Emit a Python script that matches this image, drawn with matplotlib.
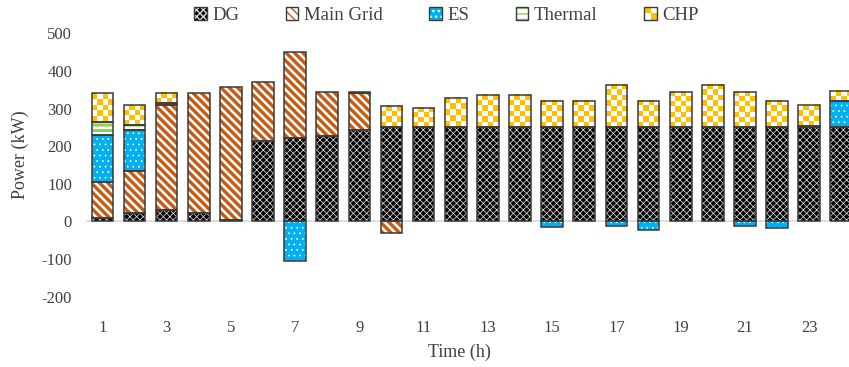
import numpy as np
import matplotlib
matplotlib.use('Agg')
import matplotlib.pyplot as plt
import matplotlib.patches as mpatches
from matplotlib.colors import ListedColormap
from matplotlib.legend_handler import HandlerBase

plt.rcParams['font.family'] = ['Liberation Serif', 'DejaVu Serif']
plt.rcParams['axes.unicode_minus'] = False

# hourly power dispatch (kW)
hours = np.arange(1, 25)
dg = [9, 23, 31, 23, 5, 213, 222, 228, 243, 250, 250, 250,
      250, 250, 250, 250, 250, 250, 250, 250, 250, 250, 250, 250]
main_grid = [97, 112, 279, 318, 352, 157, 229, 117, 98, -30, 0, 0,
             0, 0, 0, 0, 0, 0, 0, 0, 0, 0, 0, 0]
es = [124, 108, 0, 0, 0, 0, -106, 0, 0, 0, 0, 0,
      0, 0, -15, 0, -12, -22, 0, 0, -12, -17, 5, 71]
thermal = [35, 14, 4, 0, 0, 0, 0, 0, 4, 0, 0, 0,
           0, 0, 0, 0, 0, 0, 0, 0, 0, 0, 0, 0]
chp = [76, 53, 27, 0, 0, 0, 0, 0, 0, 58, 52, 78,
       86, 86, 70, 70, 113, 70, 95, 113, 95, 70, 55, 27]
xticks = np.arange(1, 24, 2)
yticks = np.arange(-200, 501, 100)

edge = '#3a3a3a'
text_col = '#404040'
yellow = '#FFC000'
width = 0.675

fig = plt.figure(figsize=(8.49, 3.67), dpi=100)
ax = fig.add_axes([86 / 849, 0.1915, 1 - 86 / 849, 0.7175])

# (label, values, facecolor, hatch, hatch colour, hatch lw)
series = [
    ('DG', dg, '#000000', 'xxxxx', '#d8d8d8', 0.55),
    ('Main Grid', main_grid, 'white', '\\\\\\\\', '#C55A11', 2.4),
    ('ES', es, '#00B0F0', '...', 'white', 0.5),
    ('Thermal', thermal, 'white', '---', '#92D050', 2.2),
    ('CHP', chp, yellow, None, None, 0),
]

pos_bottom = np.zeros(len(hours))
neg_bottom = np.zeros(len(hours))
handles = []
for label, vals, face, hatch, hcol, hlw in series:
    vals = np.array(vals, dtype=float)
    bottom = np.where(vals >= 0, pos_bottom, neg_bottom)
    m = vals != 0
    if hatch:
        with plt.rc_context({'hatch.linewidth': hlw}):
            bars = ax.bar(hours[m], vals[m], width, bottom=bottom[m],
                          facecolor=face, edgecolor=hcol, hatch=hatch,
                          linewidth=0, zorder=2)
        for p in bars:
            if hasattr(p, 'set_hatch_linewidth'):
                p.set_hatch_linewidth(hlw)
        with plt.rc_context({'hatch.linewidth': hlw}):
            h1 = mpatches.Patch(facecolor=face, edgecolor=hcol, hatch=hatch, linewidth=0)
        if hasattr(h1, 'set_hatch_linewidth'):
            h1.set_hatch_linewidth(hlw)
        h2 = mpatches.Patch(fill=False, edgecolor=edge, linewidth=1.0)
        handles.append((h1, h2))
    else:
        # checkerboard fill for CHP
        bars = ax.bar(hours[m], vals[m], width, bottom=bottom[m],
                      facecolor=face, linewidth=0, zorder=2)
        for p in bars:
            x0, y0, w, h = p.get_x(), p.get_y(), p.get_width(), p.get_height()
            cols = max(1, int(round(w / 0.171)))
            rows = max(1, int(round(abs(h) / 14.6)))
            board = np.add.outer(np.arange(rows), np.arange(cols)) % 2
            ax.imshow(board, cmap=ListedColormap([yellow, 'white']),
                      extent=(x0, x0 + w, y0, y0 + h), origin='lower',
                      interpolation='nearest', aspect='auto', zorder=2.1)
        handles.append(None)
    ax.bar(hours[m], vals[m], width, bottom=bottom[m], fill=False,
           edgecolor=edge, linewidth=1.1, zorder=3)
    pos_bottom += np.where(vals > 0, vals, 0)
    neg_bottom += np.where(vals < 0, vals, 0)


class CheckerHandler(HandlerBase):
    def create_artists(self, legend, orig_handle, xd, yd, w, h, fontsize, trans):
        arts = []
        for i in range(2):
            for j in range(2):
                c = yellow if (i + j) % 2 == 1 else 'white'
                arts.append(mpatches.Rectangle((-xd + i * w / 2, -yd + j * h / 2), w / 2, h / 2,
                                               facecolor=c, linewidth=0, transform=trans))
        arts.append(mpatches.Rectangle((-xd, -yd), w, h, fill=False, edgecolor=edge,
                                       linewidth=1.0, transform=trans))
        return arts


chp_handle = mpatches.Patch(facecolor=yellow)
handles[-1] = chp_handle
labels = [s[0] for s in series]
fig.legend(handles, labels, loc='center', bbox_to_anchor=(0.526, 0.958), ncol=5,
           frameon=False, fontsize=13.5, handlelength=0.65, handleheight=0.65,
           handletextpad=0.3, columnspacing=2.5, labelcolor=text_col,
           handler_map={chp_handle: CheckerHandler()})

ax.axhline(0, color='#D9D9D9', linewidth=1.2, zorder=1)
ax.set_xlim(0.49, 24.24)
ax.set_ylim(-200, 500)
ax.set_xticks(xticks)
ax.set_yticks(yticks)
ax.tick_params(length=0, labelsize=12, labelcolor=text_col)
ax.tick_params(axis='x', pad=17)
ax.tick_params(axis='y', pad=10)
for s in ax.spines.values():
    s.set_visible(False)

ax.set_xlabel('Time (h)', fontsize=13, color=text_col)
ax.xaxis.label.set_va('center')
ax.xaxis.set_label_coords(0.49, -0.21)
ax.set_ylabel('Power (kW)', fontsize=13, color=text_col)
ax.yaxis.label.set_va('center')
ax.yaxis.set_label_coords(-0.0865, 0.54)

fig.savefig('out.png', dpi=100)
